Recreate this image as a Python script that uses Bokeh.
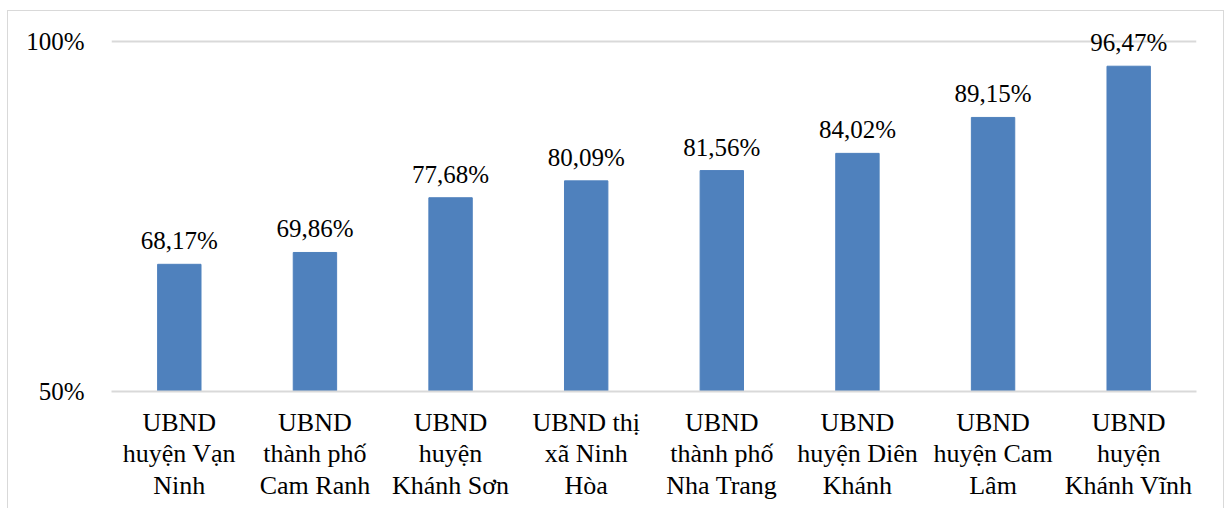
from bokeh.plotting import figure
from bokeh.models import ColumnDataSource, FixedTicker, NumeralTickFormatter, Range1d, LabelSet
from bokeh.embed import file_html
from bokeh.resources import INLINE

categories = [
    "UBND\nhuyện Vạn\nNinh",
    "UBND\nthành phố\nCam Ranh",
    "UBND\nhuyện\nKhánh Sơn",
    "UBND thị\nxã Ninh\nHòa",
    "UBND\nthành phố\nNha Trang",
    "UBND\nhuyện Diên\nKhánh",
    "UBND\nhuyện Cam\nLâm",
    "UBND\nhuyện\nKhánh Vĩnh",
]
values = [0.6817, 0.6986, 0.7768, 0.8009, 0.8156, 0.8402, 0.8915, 0.9647]
labels = ["68,17%", "69,86%", "77,68%", "80,09%", "81,56%", "84,02%", "89,15%", "96,47%"]
y_ticks = [0.5, 1.0]

FONT = "Liberation Serif"

source = ColumnDataSource(dict(cat=categories, val=values, lab=labels, base=[0.5] * len(values)))

# frame spans 370 px: 350 px for 50..100 %, plus 20 px headroom for the top label
p = figure(
    x_range=categories,
    y_range=Range1d(0.5, 0.5 + 0.5 * 370 / 350),
    width=1217,
    height=500,
    output_backend="svg",
    toolbar_location=None,
    min_border_left=103,
    min_border_right=29,
    min_border_top=10,
    min_border_bottom=120,
)
p.styles = {"border": "1px solid #d9d9d9", "box-sizing": "border-box",
            "margin-left": "7px", "margin-top": "10px"}
p.outline_line_color = None
p.background_fill_color = "white"
p.border_fill_color = "white"

p.vbar(x="cat", top="val", bottom="base", width=0.32, source=source,
       fill_color="#4F81BD", line_color="#4F81BD")

p.add_layout(LabelSet(x="cat", y="val", text="lab", source=source, text_align="center",
                      text_baseline="alphabetic", y_offset=15, text_font=FONT,
                      text_font_size="25px", text_color="black"))

p.xgrid.grid_line_color = None
p.ygrid.grid_line_color = "#d9d9d9"
p.ygrid.grid_line_width = 2
p.yaxis.ticker = FixedTicker(ticks=y_ticks)
p.ygrid.ticker = FixedTicker(ticks=[1.0])
p.yaxis.formatter = NumeralTickFormatter(format="0%")
p.yaxis.axis_line_color = None
p.yaxis.major_tick_line_color = None
p.yaxis.minor_tick_line_color = None
p.yaxis.major_label_standoff = 21
p.yaxis.major_label_text_font = FONT
p.yaxis.major_label_text_font_size = "25px"
p.yaxis.major_label_text_color = "black"

p.xaxis.axis_line_color = "#d9d9d9"
p.xaxis.axis_line_width = 2
p.xaxis.major_tick_line_color = None
p.xaxis.minor_tick_line_color = None
p.xaxis.major_label_standoff = 10
p.xaxis.major_label_text_font = FONT
p.xaxis.major_label_text_font_size = "26px"
p.xaxis.major_label_text_line_height = 1.1
p.xaxis.major_label_text_color = "black"
p.xaxis.major_label_orientation = "horizontal"

open("out.html", "w").write(file_html(p, INLINE))
